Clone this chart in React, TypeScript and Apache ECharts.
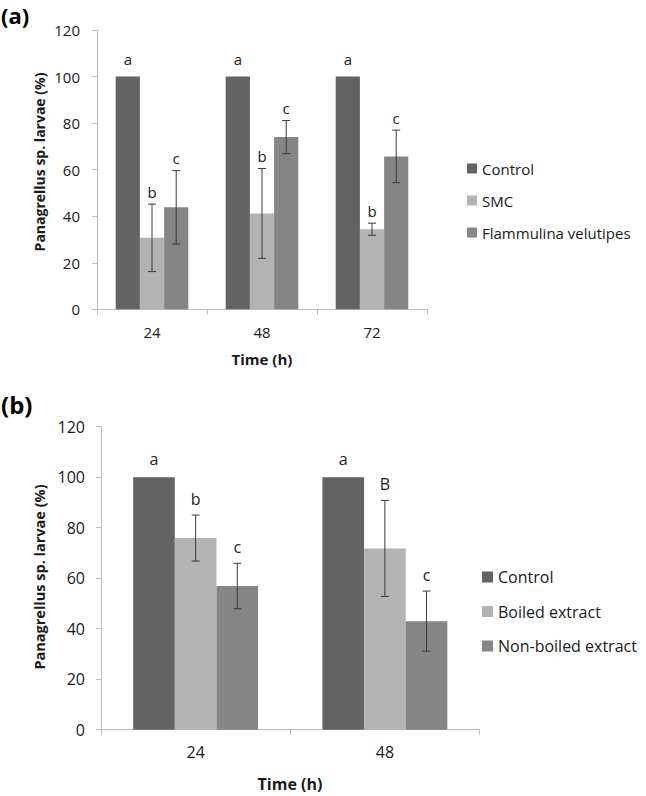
import React, { useEffect, useRef } from "react";
import * as echarts from "echarts";

// ---- Panel (a) data ----
const categoriesA = ["24", "48", "72"];
const controlA = [100, 100, 100];
const smcA = [30.7, 41.2, 34.4];
const smcErrA = [14.5, 19.3, 2.6];
const flamA = [43.8, 74.0, 65.7];
const flamErrA = [15.8, 7.1, 11.3];
const lettersControlA = ["a", "a", "a"];
const lettersSmcA = ["b", "b", "b"];
const lettersFlamA = ["c", "c", "c"];

// ---- Panel (b) data ----
const categoriesB = ["24", "48"];
const controlB = [100, 100];
const boiledB = [75.9, 71.8];
const boiledErrB = [9.1, 19.0];
const nonBoiledB = [56.9, 43.0];
const nonBoiledErrB = [9.0, 11.9];
const lettersControlB = ["a", "a"];
const lettersBoiledB = ["b", "B"];
const lettersNonBoiledB = ["c", "c"];

const yTicks = [0, 20, 40, 60, 80, 100, 120];

const C_CONTROL = "#636363";
const C_LIGHT = "#b3b3b3";
const C_MID = "#858585";
const AXIS = "#bdbdbd";
const FONT = "Open Sans";

function errSeries(
  name: string,
  gridIdx: number,
  slot: number,
  values: number[],
  errs: number[] | null,
  letters: string[],
  gapErr: number,
  gapBar: number,
  fontSize: number
) {
  return {
    type: "custom",
    name: name + "__err",
    xAxisIndex: gridIdx,
    yAxisIndex: gridIdx,
    z: 5,
    clip: false,
    silent: true,
    encode: { x: 0, y: 1 },
    data: values.map((v, i) => [i, v, errs ? errs[i] : 0]),
    renderItem: (params: any, api: any) => {
      const ci = api.value(0);
      const v = api.value(1);
      const e = api.value(2);
      const band = api.size([1, 0])[0];
      const bw = band * 0.22;
      const base = api.coord([ci, v]);
      const x = base[0] + (slot - 1) * bw;
      const children: any[] = [];
      let topY = base[1] - gapBar;
      if (e > 0) {
        const yt = api.coord([ci, v + e])[1];
        const yb = api.coord([ci, v - e])[1];
        const cap = 4;
        const ls = { stroke: "#3a3a3a", lineWidth: 1 };
        children.push({ type: "line", shape: { x1: x, y1: yt, x2: x, y2: yb }, style: ls });
        children.push({ type: "line", shape: { x1: x - cap, y1: yt, x2: x + cap, y2: yt }, style: ls });
        children.push({ type: "line", shape: { x1: x - cap, y1: yb, x2: x + cap, y2: yb }, style: ls });
        topY = yt - gapErr;
      }
      children.push({
        type: "text",
        style: {
          text: letters[params.dataIndex],
          x: x,
          y: topY,
          align: "center",
          verticalAlign: "bottom",
          fontSize: fontSize,
          fontFamily: FONT,
          fill: "#222",
        },
      });
      return { type: "group", children };
    },
  };
}

function barSeries(name: string, gridIdx: number, data: number[], color: string) {
  return {
    type: "bar",
    name,
    xAxisIndex: gridIdx,
    yAxisIndex: gridIdx,
    data,
    barWidth: "22%",
    barGap: "0%",
    itemStyle: { color },
  };
}

function xAxis(gridIdx: number, cats: string[], fontSize: number, margin: number) {
  return {
    type: "category",
    gridIndex: gridIdx,
    data: cats,
    axisLine: { lineStyle: { color: AXIS, width: 1 } },
    axisTick: { show: true, length: 5, lineStyle: { color: AXIS } },
    axisLabel: { fontSize, fontFamily: FONT, color: "#1a1a1a", margin },
    splitLine: { show: false },
  };
}

function yAxis(gridIdx: number, fontSize: number, margin: number) {
  return {
    type: "value",
    gridIndex: gridIdx,
    min: yTicks[0],
    max: yTicks[yTicks.length - 1],
    interval: yTicks[1] - yTicks[0],
    axisLine: { show: true, lineStyle: { color: AXIS, width: 1 } },
    axisTick: { show: true, length: 5, lineStyle: { color: AXIS } },
    axisLabel: { fontSize, fontFamily: FONT, color: "#1a1a1a", margin },
    splitLine: { show: false },
  };
}

export default function App() {
  const ref = useRef<HTMLDivElement>(null);
  useEffect(() => {
    if (!ref.current) return;
    const chart = echarts.init(ref.current, null, { renderer: "svg" });
    const option: any = {
      animation: false,
      backgroundColor: "#fff",
      grid: [
        { left: 97, top: 30, width: 330, height: 279.3 },
        { left: 101, top: 426.7, width: 378.5, height: 303 },
      ],
      xAxis: [xAxis(0, categoriesA, 15, 15), xAxis(1, categoriesB, 16, 14)],
      yAxis: [yAxis(0, 15, 17), yAxis(1, 16, 16)],
      legend: [
        {
          orient: "vertical",
          left: 462,
          top: 156,
          itemWidth: 10,
          itemHeight: 10,
          itemGap: 17,
          icon: "rect",
          data: ["Control", "SMC", "Flammulina velutipes"],
          textStyle: { fontSize: 15, fontFamily: FONT, color: "#1a1a1a" },
          selectedMode: false,
        },
        {
          orient: "vertical",
          left: 477,
          top: 564,
          itemWidth: 11,
          itemHeight: 11,
          itemGap: 18.5,
          icon: "rect",
          data: ["Control", "Boiled extract", "Non-boiled extract"],
          textStyle: { fontSize: 16, fontFamily: FONT, color: "#1a1a1a" },
          selectedMode: false,
        },
      ],
      graphic: [
        { type: "text", left: 1, top: 4, style: { text: "(a)", fontSize: 22, fontWeight: "bold", fontFamily: FONT, fill: "#000" } },
        { type: "text", left: 1, top: 392, style: { text: "(b)", fontSize: 24, fontWeight: "bold", fontFamily: FONT, fill: "#000" } },
        {
          type: "text", x: 39, y: 162, rotation: Math.PI / 2,
          style: { text: "Panagrellus sp. larvae (%)", fontSize: 14, fontWeight: "bold", fontFamily: FONT, fill: "#1a1a1a", align: "center", verticalAlign: "middle" },
        },
        {
          type: "text", x: 39, y: 577, rotation: Math.PI / 2,
          style: { text: "Panagrellus sp. larvae (%)", fontSize: 14.5, fontWeight: "bold", fontFamily: FONT, fill: "#1a1a1a", align: "center", verticalAlign: "middle" },
        },
        {
          type: "text", x: 262, y: 359,
          style: { text: "Time (h)", fontSize: 15, fontWeight: "bold", fontFamily: FONT, fill: "#1a1a1a", align: "center", verticalAlign: "middle" },
        },
        {
          type: "text", x: 290, y: 784,
          style: { text: "Time (h)", fontSize: 16, fontWeight: "bold", fontFamily: FONT, fill: "#1a1a1a", align: "center", verticalAlign: "middle" },
        },
      ],
      series: [
        barSeries("Control", 0, controlA, C_CONTROL),
        barSeries("SMC", 0, smcA, C_LIGHT),
        barSeries("Flammulina velutipes", 0, flamA, C_MID),
        errSeries("Control", 0, 0, controlA, null, lettersControlA, 5, 10, 15),
        errSeries("SMC", 0, 1, smcA, smcErrA, lettersSmcA, 5, 10, 15),
        errSeries("Flammulina velutipes", 0, 2, flamA, flamErrA, lettersFlamA, 5, 10, 15),
        barSeries("Control", 1, controlB, C_CONTROL),
        barSeries("Boiled extract", 1, boiledB, C_LIGHT),
        barSeries("Non-boiled extract", 1, nonBoiledB, C_MID),
        errSeries("Control", 1, 0, controlB, null, lettersControlB, 8, 10, 16),
        errSeries("Boiled extract", 1, 1, boiledB, boiledErrB, lettersBoiledB, 8, 10, 16),
        errSeries("Non-boiled extract", 1, 2, nonBoiledB, nonBoiledErrB, lettersNonBoiledB, 8, 10, 16),
      ],
    };
    chart.setOption(option);
    return () => chart.dispose();
  }, []);
  return (
    <div
      ref={ref}
      style={{ position: "fixed", left: 0, top: 0, width: 646, height: 796 }}
    />
  );
}
